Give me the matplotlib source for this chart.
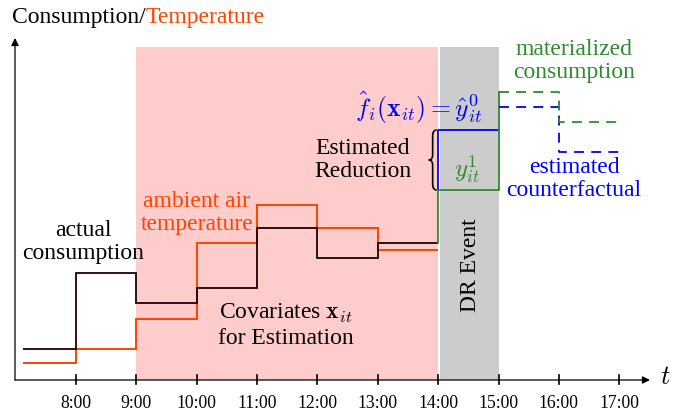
import matplotlib
matplotlib.use("Agg")
import matplotlib.pyplot as plt
from matplotlib.path import Path
from matplotlib.patches import PathPatch

plt.rcParams['font.family'] = ['Liberation Serif', 'DejaVu Serif']
plt.rcParams['mathtext.fontset'] = 'cm'

########################
#   DATA (schematic)   #
########################
# hourly step values, units = height above the time axis
start_hour = 7.12
hour_edges = [8, 9, 10, 11, 12, 13, 14]
consumption = [31, 107, 77, 92, 152, 122, 137]
temperature = [17, 31, 61, 137, 175, 152, 130]

# DR event (14:00) and after: 14-15, 15-16, 16-17
materialized = [190, 288, 258]
counterfactual = [250, 273, 228]

tick_hours = [8, 9, 10, 11, 12, 13, 14, 15, 16, 17]
tick_labels = ['8:00', '9:00', '10:00', '11:00', '12:00', '13:00',
               '14:00', '15:00', '16:00', '17:00']

estimation_window = (9, 14)
dr_window = (14, 15)
region_top = 333

#colours
ORANGE = '#ff4400'
GREEN = '#2e8b2e'
BLUE = '#0000ff'
PINK = '#ffcccc'
GRAY = '#cccccc'

# pixel helpers (layout only)
X0_PX = 15.7
PX_PER_H = 60.35
Y0_PX = 380


def px_x(px):
    return 7 + (px - X0_PX) / PX_PER_H


def px_y(py):
    return Y0_PX - py


def main():
    fig = plt.figure(figsize=(6.94, 4.13), dpi=100)
    ax = fig.add_axes([0, 0, 1, 1])
    ax.set_xlim(px_x(0), px_x(694))
    ax.set_ylim(px_y(413), px_y(0))
    ax.axis('off')

    # shaded windows
    ax.fill_between(estimation_window, 0, region_top, color=PINK, lw=0, zorder=0)
    ax.fill_between((dr_window[0] + 0.025, dr_window[1]), 0, region_top,
                    color=GRAY, lw=0, zorder=0)

    # axes with arrows
    ax.annotate('', xy=(px_x(15), px_y(38)), xytext=(px_x(15), 0),
                arrowprops=dict(arrowstyle='-|>', lw=0.9, color='black',
                                mutation_scale=11, shrinkA=0, shrinkB=0))
    ax.annotate('', xy=(px_x(650), 0), xytext=(px_x(15), 0),
                arrowprops=dict(arrowstyle='-|>', lw=0.9, color='black',
                                mutation_scale=11, shrinkA=0, shrinkB=0))
    for h, lab in zip(tick_hours, tick_labels):
        ax.plot([h, h], [-4, 5], color='black', lw=1.2, zorder=3)
        ax.text(h, px_y(403), lab, ha='center', va='center', fontsize=12.7)
    ax.text(px_x(665), px_y(378), '$t$', ha='center', va='center', fontsize=19)

    # actual consumption and temperature
    edges = [start_hour] + hour_edges
    ax.stairs(temperature, edges, baseline=None, color=ORANGE, lw=1.4, zorder=2)
    ax.stairs(consumption, edges, baseline=None, color='#200000', lw=1.3, zorder=2)

    # DR event period
    ax.plot([14, 14, 15], [materialized[0], counterfactual[0], counterfactual[0]],
            color=BLUE, lw=1.3, zorder=3)
    ax.plot([14, 14, 15, 15],
            [consumption[-1], materialized[0], materialized[0], materialized[1]],
            color=GREEN, lw=1.3, zorder=3)
    ax.plot([15, 16, 16, 17], [counterfactual[1], counterfactual[1],
                               counterfactual[2], counterfactual[2]],
            color=BLUE, lw=1.3, dashes=(5.5, 4), zorder=3)
    ax.plot([15, 16, 16, 17], [materialized[1], materialized[1],
                               materialized[2], materialized[2]],
            color=GREEN, lw=1.3, dashes=(5.5, 4), zorder=3)

    # brace for estimated reduction
    bx = 14 - 1.5 / PX_PER_H
    w = 4 / PX_PER_H
    y0, y1 = materialized[0], counterfactual[0]
    ym = (y0 + y1) / 2
    verts = [(bx, y1), (bx - w, y1), (bx - w, y1 - 6),
             (bx - w, ym + 5),
             (bx - w, ym), (bx - 2 * w, ym),
             (bx - w, ym), (bx - w, ym - 5),
             (bx - w, y0 + 6),
             (bx - w, y0), (bx, y0)]
    codes = [Path.MOVETO, Path.CURVE3, Path.CURVE3,
             Path.LINETO,
             Path.CURVE3, Path.CURVE3,
             Path.CURVE3, Path.CURVE3,
             Path.LINETO,
             Path.CURVE3, Path.CURVE3]
    ax.add_patch(PathPatch(Path(verts, codes), fill=False, lw=1.2,
                           edgecolor='black', zorder=3))

    # labels
    fs = 17
    t1 = ax.text(px_x(12), px_y(17), 'Consumption/', ha='left', va='center',
                 fontsize=fs)
    ax.annotate('Temperature', xy=(1, 0.5), xycoords=t1, ha='left', va='center',
                fontsize=fs, color=ORANGE)

    ax.text(px_x(83), px_y(242), 'actual\nconsumption', ha='center', va='center',
            fontsize=fs, linespacing=1.15)
    ax.text(px_x(197), px_y(213), 'ambient air\ntemperature', ha='center',
            va='center', fontsize=fs, linespacing=1.15, color=ORANGE)
    ax.text(px_x(363), px_y(160), 'Estimated\nReduction', ha='center',
            va='center', fontsize=fs, linespacing=1.15)
    ax.text(px_x(286), px_y(313), r'Covariates $\mathbf{x}_{it}$', ha='center',
            va='center', fontsize=fs)
    ax.text(px_x(286), px_y(338), 'for Estimation', ha='center', va='center',
            fontsize=fs)
    ax.text(px_x(470), px_y(265), 'DR Event', ha='center', va='center',
            fontsize=fs, rotation=90)
    ax.text(px_x(419), px_y(108), r'$\hat{f}_i(\mathbf{x}_{it}) = \hat{y}^0_{it}$',
            ha='center', va='center', fontsize=18.5, color=BLUE)
    ax.text(px_x(467), px_y(170), r'$y^1_{it}$', ha='center', va='center',
            fontsize=18, color=GREEN)
    ax.text(px_x(574), px_y(61), 'materialized\nconsumption', ha='center',
            va='center', fontsize=fs, linespacing=1.15, color=GREEN)
    ax.text(px_x(574), px_y(179), 'estimated\ncounterfactual', ha='center',
            va='center', fontsize=fs, linespacing=1.15, color=BLUE)

    fig.savefig('out.png', dpi=100)


if __name__ == "__main__":
    main()
